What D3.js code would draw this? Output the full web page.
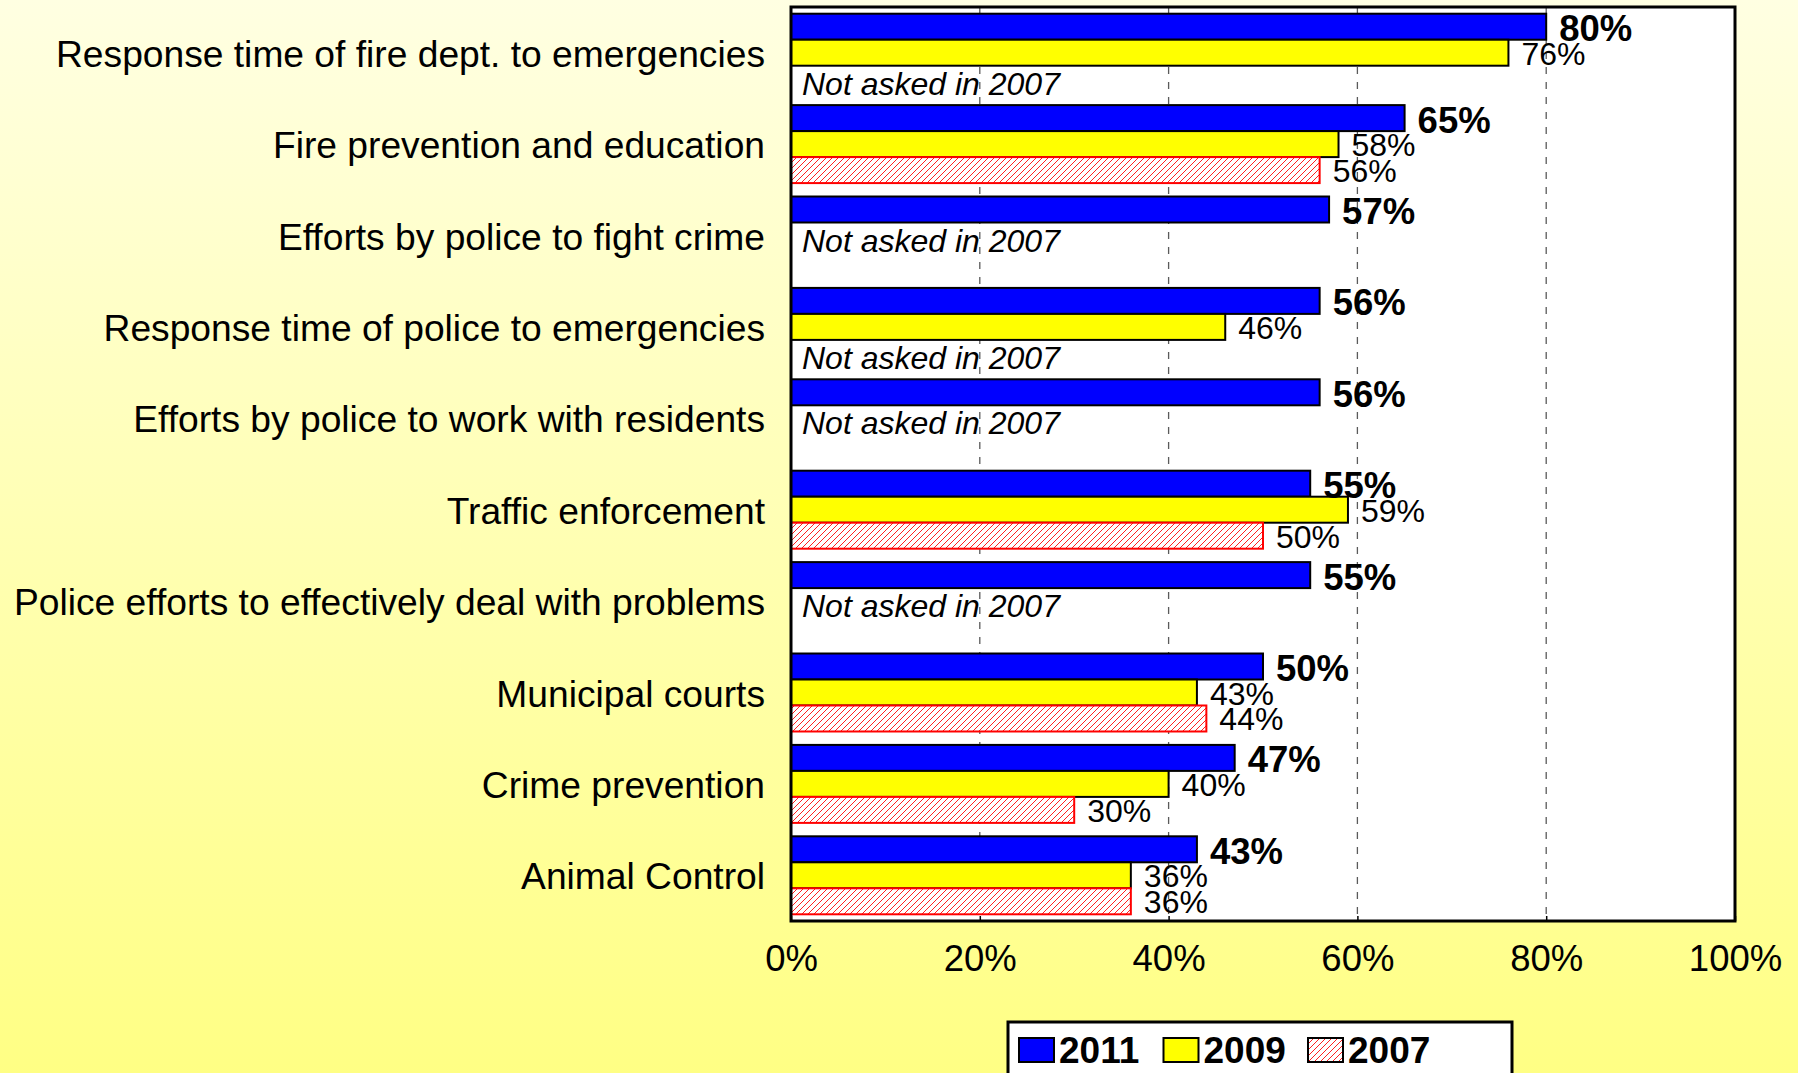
<!DOCTYPE html>
<html>
<head>
<meta charset="utf-8">
<script src="https://cdn.jsdelivr.net/npm/d3@7"></script>
<style>
  html, body { margin: 0; padding: 0; overflow: hidden; }
  svg { display: block; }
</style>
</head>
<body>
<script>
// Survey categories, top to bottom
const categories = [
  "Response time of fire dept. to emergencies",
  "Fire prevention and education",
  "Efforts by police to fight crime",
  "Response time of police to emergencies",
  "Efforts by police to work with residents",
  "Traffic enforcement",
  "Police efforts to effectively deal with problems",
  "Municipal courts",
  "Crime prevention",
  "Animal Control"
];
const years = ["2011", "2009", "2007"];
// Percent satisfied per year (null = not asked)
const values2011 = [80, 65, 57, 56, 56, 55, 55, 50, 47, 43];
const values2009 = [76, 58, null, 46, null, 59, null, 43, 40, 36];
const values2007 = [null, 56, null, null, null, 50, null, 44, 30, 36];
const missingNote = "Not asked in 2007";
const tickValues = [0, 20, 40, 60, 80, 100];

const W = 1798, H = 1073;
const plot = { left: 791, right: 1735, top: 7, bottom: 921 };

const svg = d3.select("body").append("svg").attr("width", W).attr("height", H);
const defs = svg.append("defs");

// Page background gradient
const bg = defs.append("linearGradient").attr("id", "bg").attr("x1", 0).attr("y1", 0).attr("x2", 0).attr("y2", 1);
bg.append("stop").attr("offset", "0%").attr("stop-color", "#FFFFE2");
bg.append("stop").attr("offset", "100%").attr("stop-color", "#FFFF84");
svg.append("rect").attr("width", W).attr("height", H).attr("fill", "url(#bg)");

// Red diagonal hatch for 2007
const hatch = defs.append("pattern").attr("id", "hatch").attr("patternUnits", "userSpaceOnUse")
  .attr("width", 6).attr("height", 6);
hatch.append("rect").attr("width", 6).attr("height", 6).attr("fill", "#fff");
hatch.append("path").attr("d", "M-1,1 l2,-2 M0,6 l6,-6 M5,7 l2,-2")
  .attr("stroke", "#FF2020").attr("stroke-width", 1);

const x = d3.scaleLinear().domain([0, 100]).range([plot.left, plot.right]);
const y0 = d3.scaleBand().domain(categories).range([plot.top, plot.bottom]).paddingInner(0).paddingOuter(0);
const y1 = d3.scaleBand().domain(years).range([0, y0.bandwidth()]).paddingInner(0).paddingOuter(0.258);

const font = "'Liberation Sans', Arial, sans-serif";

// Plot area
svg.append("rect").attr("x", plot.left).attr("y", plot.top)
  .attr("width", plot.right - plot.left).attr("height", plot.bottom - plot.top)
  .attr("fill", "#fff");

// Dashed vertical gridlines
svg.append("g").selectAll("line").data(tickValues.slice(1, -1)).join("line")
  .attr("x1", d => x(d)).attr("x2", d => x(d))
  .attr("y1", plot.top).attr("y2", plot.bottom)
  .attr("stroke", "#5a5a5a").attr("stroke-width", 1.3).attr("stroke-dasharray", "7,8");

const fills = { "2011": "#0000FF", "2009": "#FFFF00", "2007": "url(#hatch)" };
const strokes = { "2011": "#000", "2009": "#000", "2007": "#FF0000" };
const series = { "2011": values2011, "2009": values2009, "2007": values2007 };

const rows = [];
categories.forEach((c, i) => {
  years.forEach(yr => {
    const v = series[yr][i];
    if (v != null) rows.push({ cat: c, year: yr, value: v });
  });
});

// Bars
svg.append("g").selectAll("rect").data(rows).join("rect")
  .attr("x", x(0))
  .attr("y", d => y0(d.cat) + y1(d.year))
  .attr("width", d => x(d.value) - x(0))
  .attr("height", y1.bandwidth())
  .attr("fill", d => fills[d.year])
  .attr("stroke", d => strokes[d.year])
  .attr("stroke-width", 2);

// Bottom axis with small inside ticks
const axis = svg.append("g").attr("transform", `translate(0,${plot.bottom})`)
  .call(d3.axisBottom(x).tickValues(tickValues).tickSize(-5).tickFormat(d => d + "%"));
axis.select(".domain").remove();
axis.selectAll(".tick line").attr("stroke", "#000").attr("stroke-width", 1.5);
axis.selectAll(".tick text").attr("font-family", font).attr("font-size", 36.5)
  .attr("fill", "#000").attr("y", 37).attr("dy", "0.35em");

// Plot frame
svg.append("rect").attr("x", plot.left).attr("y", plot.top)
  .attr("width", plot.right - plot.left).attr("height", plot.bottom - plot.top)
  .attr("fill", "none").attr("stroke", "#000").attr("stroke-width", 3);

// Category labels
svg.append("g").selectAll("text").data(categories).join("text")
  .attr("x", 765).attr("y", d => y0(d) + y0.bandwidth() / 2 + 1)
  .attr("text-anchor", "end").attr("dominant-baseline", "central")
  .attr("font-family", font).attr("font-size", 37.2).attr("fill", "#000")
  .text(d => d);

// Value labels
svg.append("g").selectAll("text").data(rows).join("text")
  .attr("x", d => x(d.value) + 13)
  .attr("y", d => y0(d.cat) + y1(d.year) + y1.bandwidth() / 2 + (d.year === "2011" ? 2 : 1))
  .attr("dominant-baseline", "central")
  .attr("font-family", font)
  .attr("font-size", d => d.year === "2011" ? 36.5 : 32)
  .attr("font-weight", d => d.year === "2011" ? "bold" : "normal")
  .attr("fill", "#000")
  .text(d => d.value + "%");

// "Not asked" notes in the first empty slot of each category
const notes = [];
categories.forEach((c, i) => {
  if (values2007[i] == null) {
    const slot = values2009[i] == null ? "2009" : "2007";
    notes.push({ cat: c, slot });
  }
});
svg.append("g").selectAll("text").data(notes).join("text")
  .attr("x", 802)
  .attr("y", d => y0(d.cat) + y1(d.slot) + y1.bandwidth() / 2 + 5)
  .attr("dominant-baseline", "central")
  .attr("font-family", font).attr("font-size", 32).attr("font-style", "italic")
  .attr("fill", "#000")
  .text(missingNote);

// Legend
const lg = svg.append("g");
lg.append("rect").attr("x", 1008).attr("y", 1022).attr("width", 504).attr("height", 80)
  .attr("fill", "#fff").attr("stroke", "#000").attr("stroke-width", 3);
const item = lg.selectAll("g.item").data(years).join("g").attr("class", "item")
  .attr("transform", (d, i) => `translate(${1019 + i * 144.5},0)`);
item.append("rect").attr("x", 0).attr("y", 1038).attr("width", 35).attr("height", 24)
  .attr("fill", d => fills[d]).attr("stroke", "#000").attr("stroke-width", 2);
item.append("text").attr("x", 40).attr("y", 1063)
  .attr("font-family", font).attr("font-size", 37).attr("font-weight", "bold").attr("fill", "#000")
  .text(d => d);
</script>
</body>
</html>
